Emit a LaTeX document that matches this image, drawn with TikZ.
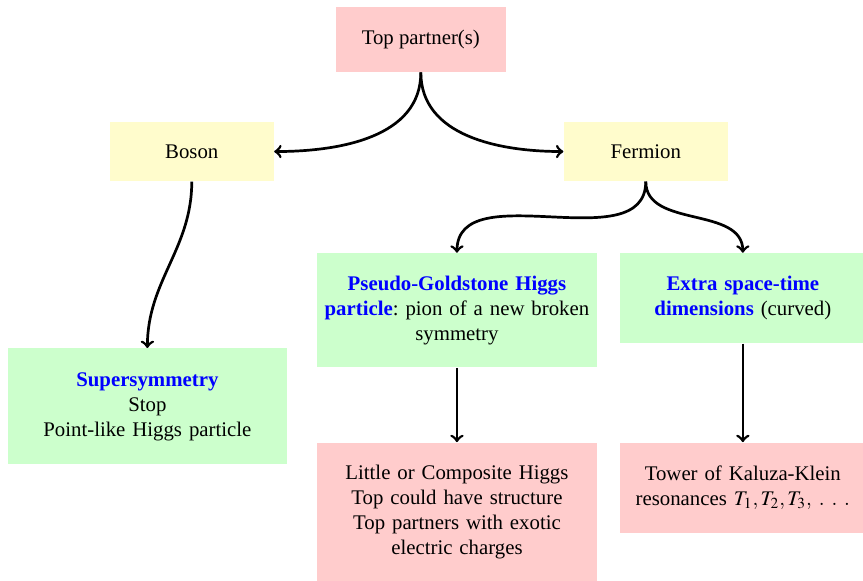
\documentclass[tikz,border=0pt]{standalone}
\usepackage{mathptmx}
\usepackage{fontspec}
\setmainfont{Liberation Serif}
\begin{document}
\begin{tikzpicture}[
		box/.style={inner xsep=0.1cm,inner ysep=0pt,align=center},
		pinkbox/.style={box,fill=red!20},
		yellowbox/.style={box,fill=yellow!20,minimum width=2.77cm,minimum height=1cm},
		greenbox/.style={box,fill=green!20},
		arr/.style={->,line width=1.3pt}]
		\useasboundingbox (0,0) rectangle (14.58,-9.81);
		\node[pinkbox,minimum width=2.87cm,minimum height=1.1cm] (top) at (7.11,-0.667) {Top partner(s)};
		\node[yellowbox] (boson) at (3.24,-2.56) {Boson};
		\node[yellowbox] (fermion) at (10.91,-2.56) {Fermion};
		\node[greenbox,anchor=north,text width=4.51cm,minimum height=1.96cm] (susy) at (2.49,-5.88) {{\color{blue}\bfseries Supersymmetry}\\Stop\\Point-like Higgs particle};
		\node[greenbox,anchor=north,text width=4.53cm,minimum height=1.93cm] (pngb) at (7.72,-4.27) {{\color{blue}\bfseries Pseudo-Goldstone Higgs}\\{\color{blue}\bfseries particle}:\ pion of a new broken\\symmetry};
		\node[greenbox,anchor=north,text width=3.95cm,minimum height=1.52cm] (extra) at (12.55,-4.27) {{\color{blue}\bfseries Extra space-time}\\{\color{blue}\bfseries dimensions} (curved)};
		\node[pinkbox,anchor=north,text width=4.53cm,minimum height=2.35cm] (little) at (7.72,-7.47) {Little or Composite Higgs\\Top could have structure\\Top partners with exotic\\electric charges};
		\node[pinkbox,anchor=north,text width=3.95cm,minimum height=1.52cm] (tower) at (12.55,-7.47) {Tower of Kaluza-Klein\\resonances $T_1,T_2,T_3,\mkern4mu.\mkern6mu.\mkern6mu.$};
		\draw[arr] (top.south) to[out=-90,in=0] (boson.east);
		\draw[arr] (top.south) to[out=-90,in=180] (fermion.west);
		\draw[arr] (boson.south) to[out=-90,in=90] (susy.north);
		\draw[arr] (fermion.south) to[out=-90,in=90] (pngb.north);
		\draw[arr] (fermion.south) to[out=-90,in=90] (extra.north);
		\draw[arr] (pngb.south) -- (little.north);
		\draw[arr] (extra.south) -- (tower.north);
	\end{tikzpicture}
\end{document}
